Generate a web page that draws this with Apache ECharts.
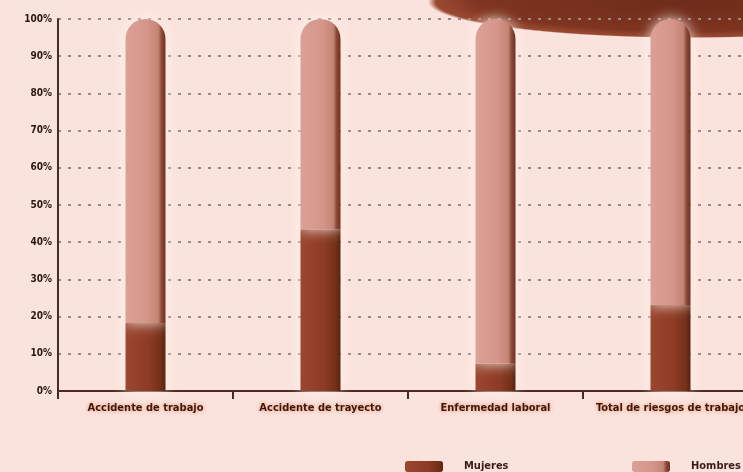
<!DOCTYPE html>
<html><head><meta charset="utf-8">
<script src="https://cdn.jsdelivr.net/npm/echarts@6/dist/echarts.min.js"></script>
<style>html,body{margin:0;padding:0;background:#fbe3dd;}
#c{width:743px;height:472px;background:radial-gradient(ellipse 262px 36px at 690px 2px, #6e2c1a 0%, #7e3420 80%, #9a4a32 97%, rgba(251,227,221,0) 100%), #fbe3dd;}</style>
</head><body><div id="c"></div>
<script>
var categories = ['Accidente de trabajo', 'Accidente de trayecto', 'Enfermedad laboral', 'Total de riesgos de trabajo'];
var mujeres = [18.3, 43.5, 7.3, 23.1];
var hombres = [81.7, 56.5, 92.7, 76.9];
var seriesNames = ['Mujeres', 'Hombres'];

var chart = echarts.init(document.getElementById('c'));
var fontN = '"DejaVu Sans Condensed", "Liberation Sans Narrow", "Liberation Sans", sans-serif';
var gradM = new echarts.graphic.LinearGradient(0, 0, 1, 0, [
  {offset: 0, color: '#9c4630'}, {offset: 0.6, color: '#8c3b24'}, {offset: 0.88, color: '#743018'}, {offset: 1, color: '#5a2212'}]);
var gradH = new echarts.graphic.LinearGradient(0, 0, 1, 0, [
  {offset: 0, color: '#dca096'}, {offset: 0.55, color: '#d4968a'}, {offset: 0.82, color: '#c48474'}, {offset: 0.9, color: '#8e4a38'}, {offset: 1, color: '#6e3020'}]);
chart.setOption({
  backgroundColor: 'transparent',
  animation: false,
  grid: {left: 58, top: 19, bottom: 81, width: 700, outerBoundsMode: 'none', containLabel: false},
  legend: [{
    data: [seriesNames[0]], left: 400, top: 456, itemWidth: 38, itemHeight: 11,
    textStyle: {fontFamily: fontN, fontWeight: 'bold', fontSize: 11, color: '#3a1c14', padding: [0, 0, 0, 16]}
  }, {
    data: [seriesNames[1]], left: 627, top: 456, itemWidth: 38, itemHeight: 11,
    textStyle: {fontFamily: fontN, fontWeight: 'bold', fontSize: 11, color: '#3a1c14', padding: [0, 0, 0, 16]}
  }],
  xAxis: {
    type: 'category', data: categories,
    axisLine: {lineStyle: {color: '#4a2a22', width: 2}},
    axisTick: {show: true, alignWithLabel: false, length: 8, lineStyle: {color: '#4a2a22', width: 2}},
    axisLabel: {interval: 0, hideOverlap: false, fontFamily: fontN, fontWeight: 'bold', fontSize: 11, color: '#3a1a10', margin: 12,
      textShadowColor: 'rgba(240,130,80,0.9)', textShadowBlur: 4}
  },
  yAxis: {
    type: 'value', min: 0, max: 100, interval: 10,
    axisLine: {show: true, lineStyle: {color: '#4a2a22', width: 2}},
    axisTick: {show: false},
    axisLabel: {formatter: '{value}%', fontFamily: fontN, fontWeight: 'bold', fontSize: 10, color: '#2a1610', margin: 6},
    splitLine: {show: true, lineStyle: {color: '#9a8884', width: 2, type: [3, 7]}}
  },
  series: [{
    name: seriesNames[0], type: 'bar', stack: 'a', data: mujeres, barWidth: 40,
    itemStyle: {color: gradM, shadowColor: 'rgba(255,245,240,0.9)', shadowBlur: 14},
    z: 3
  }, {
    name: seriesNames[1], type: 'bar', stack: 'a', data: hombres, barWidth: 40,
    itemStyle: {color: gradH, borderRadius: [20, 20, 0, 0], shadowColor: 'rgba(255,245,240,0.9)', shadowBlur: 14},
    z: 3
  }]
});
</script></body></html>
